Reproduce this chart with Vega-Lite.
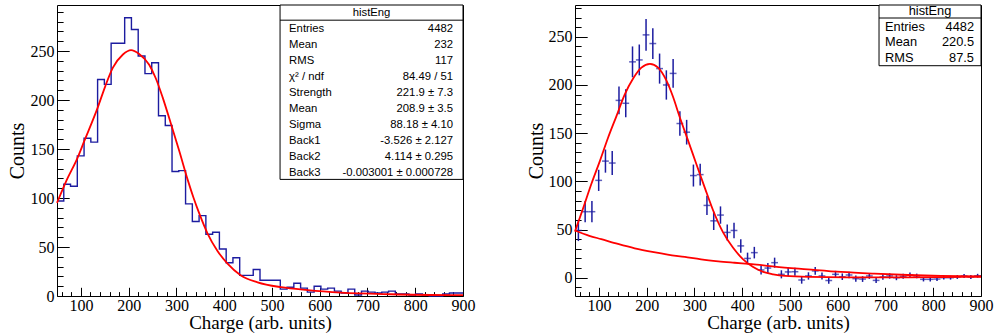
{
  "$schema": "https://vega.github.io/schema/vega-lite/v6.json",
  "padding": {"left": 7, "top": 4, "right": 5, "bottom": 2},
  "spacing": 49,
  "config": {
    "view": {"stroke": "#000000", "strokeWidth": 1},
    "axis": {
      "grid": false, "domain": false, "tickColor": "black", "tickWidth": 1,
      "labelFont": "Liberation Serif", "labelFontSize": 16, "labelColor": "black",
      "titleFont": "Liberation Serif", "titleFontSize": 20, "titleFontWeight": "normal", "titleColor": "black",
      "labelOverlap": false, "labelFlush": false, "labelBound": false
    },
    "text": {"font": "Liberation Sans", "color": "black"}
  },
  "datasets": {
    "pointsR": [{"charge":57.08,"counts":49,"err":11},{"charge":71.25,"counts":68.5,"err":11},{"charge":85.42,"counts":68.5,"err":11},{"charge":99.58,"counts":101,"err":11},{"charge":113.75,"counts":121,"err":12},{"charge":127.92,"counts":119,"err":12.5},{"charge":142.08,"counts":184,"err":14.5},{"charge":156.25,"counts":181,"err":14.5},{"charge":170.42,"counts":224,"err":16},{"charge":184.58,"counts":226,"err":16},{"charge":198.75,"counts":252,"err":16.6},{"charge":212.92,"counts":243,"err":16},{"charge":227.08,"counts":217,"err":15.6},{"charge":241.25,"counts":200,"err":15.2},{"charge":255.42,"counts":212,"err":15},{"charge":269.58,"counts":160,"err":12.8},{"charge":283.75,"counts":151,"err":12.8},{"charge":297.92,"counts":106,"err":11.4},{"charge":312.08,"counts":107,"err":11.2},{"charge":326.25,"counts":75,"err":10},{"charge":340.42,"counts":59,"err":9.5},{"charge":354.58,"counts":65,"err":9},{"charge":368.75,"counts":47,"err":8.3},{"charge":382.92,"counts":49,"err":8},{"charge":397.08,"counts":33,"err":7},{"charge":411.25,"counts":20,"err":6},{"charge":425.42,"counts":26,"err":6},{"charge":439.58,"counts":8,"err":4.7},{"charge":453.75,"counts":10,"err":5.2},{"charge":467.92,"counts":15.6,"err":5.2},{"charge":482.08,"counts":3.5,"err":4.2},{"charge":496.25,"counts":6,"err":4.2},{"charge":510.42,"counts":6.2,"err":4.2},{"charge":524.58,"counts":-2.4,"err":3.8},{"charge":538.75,"counts":1.8,"err":3.8},{"charge":552.92,"counts":7,"err":4},{"charge":567.08,"counts":1.8,"err":3.6},{"charge":581.25,"counts":-2.8,"err":3.4},{"charge":595.42,"counts":3.5,"err":3.6},{"charge":609.58,"counts":1,"err":3.4},{"charge":623.75,"counts":2.8,"err":3.4},{"charge":637.92,"counts":-1,"err":3.2},{"charge":652.08,"counts":-1.4,"err":3},{"charge":666.25,"counts":1.8,"err":3},{"charge":680.42,"counts":-2.8,"err":2.8},{"charge":694.58,"counts":0.7,"err":2.8},{"charge":708.75,"counts":1.8,"err":2.8},{"charge":722.92,"counts":0,"err":2.6},{"charge":737.08,"counts":1.4,"err":2.6},{"charge":751.25,"counts":2.8,"err":2.6},{"charge":765.42,"counts":1.8,"err":2.4},{"charge":779.58,"counts":-1.7,"err":2.2},{"charge":793.75,"counts":-1.7,"err":2.2},{"charge":807.92,"counts":-1.4,"err":2},{"charge":822.08,"counts":0,"err":2},{"charge":836.25,"counts":0,"err":2},{"charge":850.42,"counts":0.7,"err":2},{"charge":864.58,"counts":1.8,"err":2},{"charge":878.75,"counts":0.7,"err":2},{"charge":892.92,"counts":2,"err":2}]
  },
  "hconcat": [
    {
      "width": 406, "height": 291,
      "resolve": {"scale": {"y": "independent"}, "axis": {"x": "independent", "y": "independent"}},
      "layer": [
        {
          "data": {"values": [{"charge":50,"counts":97},{"charge":64.17,"counts":114},{"charge":78.33,"counts":112},{"charge":92.5,"counts":143},{"charge":106.67,"counts":161},{"charge":120.83,"counts":157},{"charge":135,"counts":221},{"charge":149.17,"counts":216},{"charge":163.33,"counts":258},{"charge":177.5,"counts":258},{"charge":191.67,"counts":284},{"charge":205.83,"counts":272},{"charge":220,"counts":245},{"charge":234.17,"counts":227},{"charge":248.33,"counts":238},{"charge":262.5,"counts":184},{"charge":276.67,"counts":174},{"charge":290.83,"counts":127},{"charge":305,"counts":128},{"charge":319.17,"counts":94},{"charge":333.33,"counts":76},{"charge":347.5,"counts":82},{"charge":361.67,"counts":63},{"charge":375.83,"counts":65},{"charge":390,"counts":48},{"charge":404.17,"counts":34},{"charge":418.33,"counts":39},{"charge":432.5,"counts":21},{"charge":446.67,"counts":21},{"charge":460.83,"counts":27},{"charge":475,"counts":16},{"charge":489.17,"counts":16},{"charge":503.33,"counts":16},{"charge":517.5,"counts":7},{"charge":531.67,"counts":9},{"charge":545.83,"counts":13},{"charge":560,"counts":8},{"charge":574.17,"counts":4},{"charge":588.33,"counts":10},{"charge":602.5,"counts":7},{"charge":616.67,"counts":8},{"charge":630.83,"counts":5},{"charge":645,"counts":3},{"charge":659.17,"counts":7},{"charge":673.33,"counts":1},{"charge":687.5,"counts":5},{"charge":701.67,"counts":4},{"charge":715.83,"counts":3},{"charge":730,"counts":4},{"charge":744.17,"counts":5},{"charge":758.33,"counts":2},{"charge":772.5,"counts":2},{"charge":786.67,"counts":1},{"charge":800.83,"counts":2},{"charge":815,"counts":1},{"charge":829.17,"counts":0},{"charge":843.33,"counts":0},{"charge":857.5,"counts":2},{"charge":871.67,"counts":3},{"charge":885.83,"counts":3},{"charge":900,"counts":3}]},
          "mark": {"type": "line", "interpolate": "step-after", "color": "#1c1ca0", "strokeWidth": 1.4},
          "encoding": {
            "x": {"field": "charge", "type": "quantitative", "title": "Charge (arb. units)",
              "scale": {"domain": [50, 900], "nice": false, "zero": false},
              "axis": {"orient": "bottom", "values": [100,200,300,400,500,600,700,800,900], "tickSize": 8.7, "offset": -8.7, "labelPadding": 1, "minExtent": 26.5, "maxExtent": 26.5, "titlePadding": 0, "titleFontSize": 19}},
            "y": {"field": "counts", "type": "quantitative", "title": "Counts",
              "scale": {"domain": [0, 297], "nice": false, "zero": false},
              "axis": {"orient": "left", "values": [0,50,100,150,200,250], "tickSize": 12.2, "offset": -12.2, "labelPadding": 3, "minExtent": 41.2, "maxExtent": 41.2, "titlePadding": 0}}
          }
        },
        {
          "data": {"values": [{"charge":50,"fit":95},{"charge":70,"fit":118},{"charge":93,"fit":141},{"charge":107,"fit":158},{"charge":135,"fit":192},{"charge":151,"fit":214},{"charge":167,"fit":233},{"charge":188,"fit":246.5},{"charge":205,"fit":251},{"charge":222,"fit":247},{"charge":243,"fit":236},{"charge":257,"fit":222},{"charge":271,"fit":203},{"charge":289,"fit":175},{"charge":306,"fit":148},{"charge":324,"fit":118},{"charge":336,"fit":100},{"charge":348,"fit":84},{"charge":365,"fit":64},{"charge":386,"fit":46},{"charge":407,"fit":33},{"charge":435,"fit":21},{"charge":470,"fit":14},{"charge":519,"fit":9},{"charge":575,"fit":6},{"charge":645,"fit":3.5},{"charge":750,"fit":1.8},{"charge":900,"fit":0.8}]},
          "mark": {"type": "line", "interpolate": "monotone", "color": "#ff0000", "strokeWidth": 1.8},
          "encoding": {
            "x": {"field": "charge", "type": "quantitative",
              "axis": {"orient": "bottom", "values": [60,80,120,140,160,180,220,240,260,280,320,340,360,380,420,440,460,480,520,540,560,580,620,640,660,680,720,740,760,780,820,840,860,880], "tickSize": 4.4, "offset": -4.4, "labels": false, "title": null, "minExtent": 0, "maxExtent": 0}},
            "y": {"field": "fit", "type": "quantitative",
              "scale": {"domain": [0, 297], "nice": false, "zero": false},
              "axis": {"orient": "left", "values": [10,20,30,40,60,70,80,90,110,120,130,140,160,170,180,190,210,220,230,240,260,270,280,290], "tickSize": 6.1, "offset": -6.1, "labels": false, "title": null, "minExtent": 0, "maxExtent": 0}}
          }
        },
        {
          "data": {"values": [{}]},
          "mark": {"type": "rect", "fill": "white", "stroke": "black", "strokeWidth": 1},
          "encoding": {"x": {"datum": 517, "axis": null}, "x2": {"datum": 900}, "y": {"datum": 297, "scale": {"domain": [0, 297], "nice": false, "zero": false}, "axis": null}, "y2": {"datum": 119}}
        },
        {
          "data": {"values": [{}]},
          "mark": {"type": "rule", "color": "black", "strokeWidth": 1},
          "encoding": {"x": {"datum": 517, "axis": null}, "x2": {"datum": 900}, "y": {"datum": 281.5, "scale": {"domain": [0, 297], "nice": false, "zero": false}, "axis": null}}
        },
        {
          "data": {"values": [{"row": "r0", "name": "histEng"}]},
          "mark": {"type": "text", "align": "center", "baseline": "middle", "fontSize": 11.3},
          "encoding": {
            "x": {"datum": 708.5, "axis": null},
            "y": {"field": "row", "type": "ordinal", "scale": {"type": "point", "domain": ["r0","r1","r2","r3","r4","r5","r6","r7","r8","r9","r10"], "range": [7.5, 167.5], "padding": 0}, "axis": null},
            "text": {"field": "name"}
          }
        },
        {
          "data": {"values": [{"row":"r1","name":"Entries","value":"4482"},{"row":"r2","name":"Mean","value":"232"},{"row":"r3","name":"RMS","value":"117"},{"row":"r4","name":"χ² / ndf","value":"84.49 / 51"},{"row":"r5","name":"Strength","value":"221.9 ± 7.3"},{"row":"r6","name":"Mean","value":"208.9 ± 3.5"},{"row":"r7","name":"Sigma","value":"88.18 ± 4.10"},{"row":"r8","name":"Back1","value":"-3.526 ± 2.127"},{"row":"r9","name":"Back2","value":"4.114 ± 0.295"},{"row":"r10","name":"Back3","value":"-0.003001 ± 0.000728"}]},
          "layer": [
            {
              "mark": {"type": "text", "align": "left", "baseline": "middle", "fontSize": 11.3, "dx": 9},
              "encoding": {
                "x": {"datum": 517, "axis": null},
                "y": {"field": "row", "type": "ordinal", "scale": {"type": "point", "domain": ["r0","r1","r2","r3","r4","r5","r6","r7","r8","r9","r10"], "range": [7.5, 167.5], "padding": 0}, "axis": null},
                "text": {"field": "name"}
              }
            },
            {
              "mark": {"type": "text", "align": "right", "baseline": "middle", "fontSize": 11.3, "dx": -10},
              "encoding": {
                "x": {"datum": 900, "axis": null},
                "y": {"field": "row", "type": "ordinal", "scale": {"type": "point", "domain": ["r0","r1","r2","r3","r4","r5","r6","r7","r8","r9","r10"], "range": [7.5, 167.5], "padding": 0}, "axis": null},
                "text": {"field": "value"}
              }
            }
          ]
        }
      ]
    },
    {
      "width": 406, "height": 291,
      "resolve": {"scale": {"y": "independent"}, "axis": {"x": "independent", "y": "independent"}},
      "layer": [
        {
          "data": {"name": "pointsR"},
          "mark": {"type": "tick", "orient": "horizontal", "size": 6.8, "thickness": 1.5, "color": "#1c1ca0"},
          "encoding": {
            "x": {"field": "charge", "type": "quantitative", "title": "Charge (arb. units)",
              "scale": {"domain": [50, 900], "nice": false, "zero": false},
              "axis": {"orient": "bottom", "values": [100,200,300,400,500,600,700,800,900], "tickSize": 8.7, "offset": -8.7, "labelPadding": 1, "minExtent": 26.5, "maxExtent": 26.5, "titlePadding": 0, "titleFontSize": 19}},
            "y": {"field": "counts", "type": "quantitative", "title": "Counts",
              "scale": {"domain": [-19, 283], "nice": false, "zero": false},
              "axis": {"orient": "left", "values": [0,50,100,150,200,250], "tickSize": 12.2, "offset": -12.2, "labelPadding": 3, "minExtent": 41.2, "maxExtent": 41.2, "titlePadding": 0}}
          }
        },
        {
          "data": {"name": "pointsR"},
          "mark": {"type": "errorbar", "color": "#1c1ca0", "thickness": 1.5},
          "encoding": {
            "x": {"field": "charge", "type": "quantitative", "axis": null},
            "y": {"field": "counts", "type": "quantitative", "scale": {"domain": [-19, 283], "nice": false, "zero": false}, "axis": null},
            "yError": {"field": "err"}
          }
        },
        {
          "data": {"values": [{"charge":50,"bg":49},{"charge":80,"bg":43.5},{"charge":105,"bg":40},{"charge":140,"bg":35},{"charge":175,"bg":30.5},{"charge":215,"bg":26.5},{"charge":244,"bg":24},{"charge":280,"bg":21.5},{"charge":314,"bg":19},{"charge":350,"bg":17},{"charge":384,"bg":15.5},{"charge":420,"bg":14},{"charge":468,"bg":11.5},{"charge":537,"bg":8.7},{"charge":607,"bg":6},{"charge":677,"bg":4.2},{"charge":747,"bg":2.8},{"charge":817,"bg":1.8},{"charge":900,"bg":1.3}]},
          "mark": {"type": "line", "interpolate": "monotone", "color": "#ff0000", "strokeWidth": 1.8},
          "encoding": {
            "x": {"field": "charge", "type": "quantitative",
              "axis": {"orient": "bottom", "values": [60,80,120,140,160,180,220,240,260,280,320,340,360,380,420,440,460,480,520,540,560,580,620,640,660,680,720,740,760,780,820,840,860,880], "tickSize": 4.4, "offset": -4.4, "labels": false, "title": null, "minExtent": 0, "maxExtent": 0}},
            "y": {"field": "bg", "type": "quantitative",
              "scale": {"domain": [-19, 283], "nice": false, "zero": false},
              "axis": {"orient": "left", "values": [-10,10,20,30,40,60,70,80,90,110,120,130,140,160,170,180,190,210,220,230,240,260,270,280], "tickSize": 6.1, "offset": -6.1, "labels": false, "title": null, "minExtent": 0, "maxExtent": 0}}
          }
        },
        {
          "data": {"values": [{"charge":50,"fit":48},{"charge":67,"fit":72},{"charge":84,"fit":97},{"charge":102,"fit":121},{"charge":119,"fit":145},{"charge":137,"fit":168},{"charge":154,"fit":190},{"charge":172,"fit":207},{"charge":189,"fit":218},{"charge":207,"fit":222},{"charge":224,"fit":218},{"charge":241,"fit":205},{"charge":255,"fit":188},{"charge":269,"fit":167},{"charge":287,"fit":142},{"charge":304,"fit":118},{"charge":322,"fit":93},{"charge":339,"fit":70},{"charge":360,"fit":47},{"charge":381,"fit":31},{"charge":402,"fit":19},{"charge":423,"fit":11},{"charge":444,"fit":6},{"charge":465,"fit":3.5},{"charge":490,"fit":1.8},{"charge":540,"fit":0.8},{"charge":620,"fit":0.4},{"charge":750,"fit":0.4},{"charge":820,"fit":0.6},{"charge":900,"fit":1}]},
          "mark": {"type": "line", "interpolate": "monotone", "color": "#ff0000", "strokeWidth": 1.8},
          "encoding": {
            "x": {"field": "charge", "type": "quantitative", "axis": null},
            "y": {"field": "fit", "type": "quantitative", "scale": {"domain": [-19, 283], "nice": false, "zero": false}, "axis": null}
          }
        },
        {
          "data": {"values": [{}]},
          "mark": {"type": "rect", "fill": "white", "stroke": "black", "strokeWidth": 1},
          "encoding": {"x": {"datum": 686.5, "axis": null}, "x2": {"datum": 900}, "y": {"datum": 283, "scale": {"domain": [-19, 283], "nice": false, "zero": false}, "axis": null}, "y2": {"datum": 220}}
        },
        {
          "data": {"values": [{}]},
          "mark": {"type": "rule", "color": "black", "strokeWidth": 1},
          "encoding": {"x": {"datum": 686.5, "axis": null}, "x2": {"datum": 900}, "y": {"datum": 269.5, "scale": {"domain": [-19, 283], "nice": false, "zero": false}, "axis": null}}
        },
        {
          "data": {"values": [{"row": "r0", "name": "histEng"}]},
          "mark": {"type": "text", "align": "center", "baseline": "middle", "fontSize": 12.8},
          "encoding": {
            "x": {"datum": 793.25, "axis": null},
            "y": {"field": "row", "type": "ordinal", "scale": {"type": "point", "domain": ["r0","r1","r2","r3"], "range": [6, 52.5], "padding": 0}, "axis": null},
            "text": {"field": "name"}
          }
        },
        {
          "data": {"values": [{"row":"r1","name":"Entries","value":"4482"},{"row":"r2","name":"Mean","value":"220.5"},{"row":"r3","name":"RMS","value":"87.5"}]},
          "layer": [
            {
              "mark": {"type": "text", "align": "left", "baseline": "middle", "fontSize": 12.8, "dx": 6},
              "encoding": {
                "x": {"datum": 686.5, "axis": null},
                "y": {"field": "row", "type": "ordinal", "scale": {"type": "point", "domain": ["r0","r1","r2","r3"], "range": [6, 52.5], "padding": 0}, "axis": null},
                "text": {"field": "name"}
              }
            },
            {
              "mark": {"type": "text", "align": "right", "baseline": "middle", "fontSize": 12.8, "dx": -7},
              "encoding": {
                "x": {"datum": 900, "axis": null},
                "y": {"field": "row", "type": "ordinal", "scale": {"type": "point", "domain": ["r0","r1","r2","r3"], "range": [6, 52.5], "padding": 0}, "axis": null},
                "text": {"field": "value"}
              }
            }
          ]
        }
      ]
    }
  ]
}
